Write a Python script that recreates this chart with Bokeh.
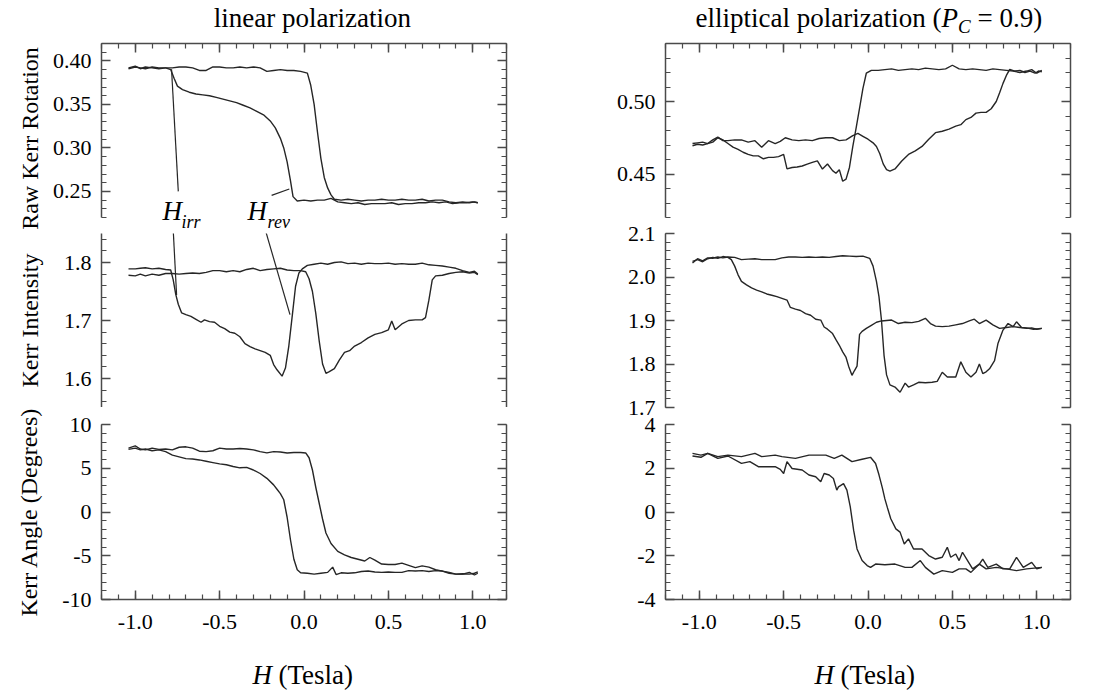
from bokeh.plotting import figure
from bokeh.models import Range1d, LinearAxis, FixedTicker, Label, CustomJSTickFormatter
from bokeh.layouts import row, column
from bokeh.embed import file_html
from bokeh.resources import INLINE

# ---------------- data ----------------
# linear polarization: raw Kerr rotation
rot_a_h = [-1.04, -1.00, -0.97, -0.94, -0.90, -0.86, -0.82, -0.78, -0.74, -0.70, -0.66, -0.62, -0.58, -0.54, -0.50,
           -0.46, -0.42, -0.38, -0.34, -0.30, -0.26, -0.22, -0.18, -0.14, -0.10, -0.06, -0.02, 0.02, 0.04, 0.06, 0.08,
           0.10, 0.12, 0.14, 0.16, 0.18, 0.22, 0.26, 0.30, 0.34, 0.38, 0.42, 0.46, 0.50, 0.54, 0.58, 0.62, 0.66, 0.70,
           0.74, 0.78, 0.82, 0.86, 0.90, 0.94, 0.98, 1.01, 1.03]
rot_a_y = [0.392, 0.394, 0.391, 0.393, 0.392, 0.391, 0.392, 0.392, 0.393, 0.393, 0.392, 0.389, 0.389, 0.393, 0.393,
           0.392, 0.392, 0.393, 0.392, 0.393, 0.392, 0.388, 0.389, 0.390, 0.389, 0.389, 0.388, 0.386, 0.372, 0.350,
           0.318, 0.288, 0.266, 0.254, 0.246, 0.241, 0.240, 0.241, 0.240, 0.239, 0.240, 0.240, 0.241, 0.240, 0.240,
           0.241, 0.240, 0.240, 0.241, 0.239, 0.240, 0.240, 0.238, 0.237, 0.238, 0.237, 0.238, 0.237]
rot_b_h = [-1.04, -1.00, -0.97, -0.94, -0.90, -0.86, -0.82, -0.79, -0.77, -0.75, -0.72, -0.68, -0.64, -0.60, -0.56,
           -0.52, -0.48, -0.44, -0.40, -0.36, -0.32, -0.28, -0.24, -0.20, -0.17, -0.14, -0.12, -0.10, -0.08, -0.065,
           -0.04, 0.00, 0.04, 0.08, 0.12, 0.16, 0.20, 0.24, 0.28, 0.32, 0.36, 0.40, 0.44, 0.48, 0.52, 0.56, 0.60, 0.64,
           0.68, 0.72, 0.76, 0.80, 0.84, 0.88, 0.92, 0.96, 1.00, 1.03]
rot_b_y = [0.391, 0.393, 0.392, 0.391, 0.393, 0.392, 0.392, 0.390, 0.380, 0.371, 0.367, 0.364, 0.362, 0.361, 0.360,
           0.358, 0.356, 0.354, 0.352, 0.349, 0.346, 0.342, 0.338, 0.331, 0.323, 0.311, 0.300, 0.284, 0.262, 0.244,
           0.239, 0.240, 0.239, 0.240, 0.240, 0.242, 0.238, 0.237, 0.236, 0.237, 0.235, 0.236, 0.236, 0.236, 0.237,
           0.235, 0.236, 0.236, 0.237, 0.237, 0.238, 0.237, 0.238, 0.236, 0.237, 0.237, 0.238, 0.237]

# linear polarization: Kerr intensity
int_a_h = [-1.04, -1.00, -0.97, -0.94, -0.90, -0.86, -0.82, -0.79, -0.775, -0.76, -0.745, -0.725, -0.70, -0.67,
           -0.64, -0.61, -0.59, -0.56, -0.53, -0.50, -0.47, -0.44, -0.41, -0.38, -0.35, -0.32, -0.29, -0.26, -0.23,
           -0.20, -0.18, -0.16, -0.13, -0.11, -0.09, -0.07, -0.05, -0.03, -0.01, 0.02, 0.06, 0.10, 0.14, 0.18, 0.22,
           0.26, 0.30, 0.34, 0.38, 0.42, 0.46, 0.50, 0.54, 0.58, 0.62, 0.66, 0.70, 0.74, 0.78, 0.82, 0.86, 0.90, 0.94,
           0.98, 1.01, 1.03]
int_a_y = [1.789, 1.789, 1.790, 1.791, 1.789, 1.790, 1.788, 1.787, 1.770, 1.745, 1.728, 1.713, 1.710, 1.707, 1.702,
           1.697, 1.701, 1.698, 1.697, 1.690, 1.686, 1.680, 1.678, 1.672, 1.660, 1.655, 1.651, 1.648, 1.645, 1.640,
           1.624, 1.615, 1.604, 1.618, 1.656, 1.707, 1.759, 1.782, 1.789, 1.795, 1.797, 1.799, 1.797, 1.800, 1.801,
           1.798, 1.799, 1.797, 1.799, 1.798, 1.798, 1.799, 1.797, 1.798, 1.797, 1.797, 1.799, 1.796, 1.795, 1.794,
           1.792, 1.790, 1.786, 1.783, 1.785, 1.780]
int_b_h = [-1.04, -1.00, -0.97, -0.94, -0.90, -0.86, -0.82, -0.78, -0.74, -0.70, -0.66, -0.62, -0.58, -0.54, -0.50,
           -0.46, -0.42, -0.38, -0.34, -0.30, -0.26, -0.22, -0.18, -0.14, -0.10, -0.06, -0.02, 0.01, 0.03, 0.05, 0.07,
           0.09, 0.11, 0.13, 0.15, 0.18, 0.21, 0.24, 0.27, 0.30, 0.34, 0.38, 0.42, 0.46, 0.50, 0.52, 0.54, 0.58, 0.62,
           0.66, 0.70, 0.72, 0.74, 0.76, 0.78, 0.82, 0.86, 0.90, 0.94, 0.98, 1.01, 1.03]
int_b_y = [1.778, 1.777, 1.780, 1.777, 1.780, 1.778, 1.781, 1.781, 1.780, 1.781, 1.782, 1.781, 1.783, 1.786, 1.786,
           1.784, 1.786, 1.784, 1.788, 1.790, 1.786, 1.788, 1.789, 1.790, 1.787, 1.786, 1.786, 1.784, 1.772, 1.750,
           1.712, 1.665, 1.625, 1.609, 1.612, 1.617, 1.632, 1.645, 1.648, 1.656, 1.662, 1.670, 1.676, 1.679, 1.684,
           1.699, 1.684, 1.694, 1.700, 1.701, 1.701, 1.705, 1.735, 1.770, 1.777, 1.778, 1.781, 1.783, 1.784, 1.782,
           1.783, 1.779]

# linear polarization: Kerr angle
ang_a_h = [-1.04, -1.00, -0.97, -0.94, -0.90, -0.86, -0.82, -0.78, -0.74, -0.70, -0.66, -0.62, -0.58, -0.54, -0.50,
           -0.46, -0.42, -0.38, -0.34, -0.30, -0.26, -0.22, -0.18, -0.14, -0.10, -0.06, -0.02, 0.01, 0.03, 0.05, 0.07,
           0.09, 0.11, 0.13, 0.16, 0.20, 0.24, 0.28, 0.32, 0.36, 0.39, 0.42, 0.46, 0.50, 0.54, 0.58, 0.62, 0.66, 0.70,
           0.74, 0.78, 0.82, 0.86, 0.90, 0.94, 0.98, 1.01, 1.03]
ang_a_y = [7.3, 7.55, 7.2, 7.1, 7.3, 7.15, 7.2, 7.1, 7.4, 7.45, 7.3, 6.95, 6.9, 7.0, 7.3, 7.2, 7.2, 7.25, 7.2, 7.1,
           6.9, 6.75, 6.9, 6.85, 6.75, 6.8, 6.8, 6.75, 6.2, 4.8, 2.8, 1.0, -0.8, -2.4, -3.6, -4.5, -4.9, -5.2, -5.4,
           -5.6, -5.2, -5.5, -5.95, -6.0, -6.0, -5.85, -6.1, -6.35, -6.15, -6.3, -6.6, -6.75, -6.9, -7.1, -7.05, -7.1,
           -7.0, -6.85]
ang_b_h = [-1.04, -1.00, -0.97, -0.94, -0.90, -0.86, -0.82, -0.78, -0.74, -0.70, -0.66, -0.62, -0.58, -0.54, -0.50,
           -0.46, -0.42, -0.38, -0.34, -0.30, -0.26, -0.22, -0.18, -0.16, -0.14, -0.12, -0.10, -0.08, -0.06, -0.04,
           -0.02, 0.02, 0.06, 0.10, 0.14, 0.17, 0.19, 0.22, 0.26, 0.30, 0.34, 0.38, 0.42, 0.46, 0.50, 0.54, 0.58, 0.62,
           0.66, 0.70, 0.74, 0.78, 0.82, 0.86, 0.90, 0.94, 0.98, 1.01, 1.03]
ang_b_y = [7.15, 7.3, 7.1, 7.2, 7.0, 7.1, 6.9, 6.5, 6.3, 6.1, 6.05, 5.95, 5.8, 5.65, 5.5, 5.4, 5.2, 5.05, 5.1, 4.8,
           4.4, 3.85, 3.1, 2.6, 2.1, 1.4, -0.6, -3.2, -5.4, -6.6, -6.95, -7.0, -7.1, -7.0, -6.9, -6.3, -7.15, -6.95,
           -7.0, -6.95, -6.8, -6.75, -6.85, -6.9, -6.85, -6.9, -6.9, -6.7, -6.75, -6.7, -6.8, -6.7, -6.75, -7.0, -7.1,
           -7.1, -6.9, -7.2, -7.0]

# elliptical polarization: raw Kerr rotation
rote_a_h = [-1.04, -1.01, -0.98, -0.95, -0.92, -0.89, -0.86, -0.83, -0.80, -0.77, -0.74, -0.71, -0.68, -0.65, -0.62,
            -0.59, -0.56, -0.53, -0.50, -0.48, -0.45, -0.42, -0.39, -0.36, -0.33, -0.30, -0.27, -0.24, -0.21, -0.19,
            -0.17, -0.15, -0.13, -0.11, -0.09, -0.07, -0.05, -0.03, -0.01, 0.02, 0.06, 0.10, 0.14, 0.18, 0.22, 0.26,
            0.30, 0.34, 0.38, 0.42, 0.46, 0.50, 0.54, 0.58, 0.62, 0.66, 0.70, 0.74, 0.78, 0.82, 0.86, 0.90, 0.94, 0.97,
            1.00, 1.03]
rote_a_y = [0.4695, 0.4705, 0.4700, 0.4710, 0.4720, 0.4750, 0.4735, 0.4710, 0.4685, 0.4670, 0.4650, 0.4635, 0.4625,
            0.4625, 0.4605, 0.4615, 0.4615, 0.4620, 0.4635, 0.4535, 0.4545, 0.4548, 0.4555, 0.4568, 0.4580, 0.4590,
            0.4534, 0.4569, 0.4523, 0.4505, 0.4530, 0.4450, 0.4465, 0.4545, 0.4690, 0.4820, 0.4955, 0.5090, 0.5195,
            0.5215, 0.5215, 0.5220, 0.5225, 0.5215, 0.5220, 0.5225, 0.5220, 0.5230, 0.5225, 0.5220, 0.5225, 0.5250,
            0.5225, 0.5220, 0.5225, 0.5220, 0.5215, 0.5225, 0.5220, 0.5215, 0.5210, 0.5200, 0.5210, 0.5220, 0.5195,
            0.5215]
rote_b_h = [-1.04, -1.01, -0.98, -0.95, -0.92, -0.89, -0.86, -0.83, -0.79, -0.75, -0.71, -0.67, -0.63, -0.59, -0.55,
            -0.52, -0.49, -0.45, -0.41, -0.37, -0.33, -0.29, -0.25, -0.21, -0.17, -0.13, -0.09, -0.06, -0.03, 0.00,
            0.03, 0.05, 0.07, 0.09, 0.11, 0.13, 0.16, 0.20, 0.24, 0.28, 0.32, 0.36, 0.40, 0.44, 0.48, 0.52, 0.55, 0.58,
            0.61, 0.64, 0.67, 0.70, 0.73, 0.76, 0.78, 0.80, 0.82, 0.84, 0.87, 0.90, 0.93, 0.96, 0.99, 1.01, 1.03]
rote_b_y = [0.4710, 0.4715, 0.4720, 0.4710, 0.4735, 0.4755, 0.4730, 0.4730, 0.4735, 0.4735, 0.4720, 0.4730, 0.4685,
            0.4730, 0.4710, 0.4725, 0.4750, 0.4735, 0.4730, 0.4735, 0.4730, 0.4745, 0.4750, 0.4750, 0.4730, 0.4735,
            0.4765, 0.4780, 0.4760, 0.4740, 0.4715, 0.4690, 0.4640, 0.4570, 0.4530, 0.4520, 0.4535, 0.4590, 0.4635,
            0.4660, 0.4690, 0.4740, 0.4785, 0.4795, 0.4810, 0.4830, 0.4840, 0.4875, 0.4890, 0.4920, 0.4925, 0.4925,
            0.4950, 0.5000, 0.5060, 0.5125, 0.5180, 0.5222, 0.5210, 0.5215, 0.5200, 0.5210, 0.5195, 0.5210, 0.5205]

# elliptical polarization: Kerr intensity
inte_p_h = [-1.04, -1.01, -0.98, -0.95, -0.92, -0.89, -0.86, -0.83, -0.79, -0.75, -0.71, -0.67, -0.63, -0.59, -0.55,
            -0.51, -0.47, -0.43, -0.39, -0.35, -0.31, -0.27, -0.23, -0.19, -0.15, -0.11, -0.07, -0.03, 0.01, 0.03,
            0.05, 0.065, 0.08, 0.095, 0.11, 0.13, 0.16, 0.19, 0.22, 0.24, 0.27, 0.30, 0.34, 0.38, 0.41, 0.44, 0.47,
            0.50, 0.52, 0.55, 0.58, 0.61, 0.64, 0.66, 0.68, 0.70, 0.72, 0.75, 0.77, 0.80, 0.83, 0.86, 0.88, 0.91, 0.94,
            0.97, 1.00, 1.03]
inte_p_y = [2.032, 2.042, 2.037, 2.044, 2.043, 2.046, 2.044, 2.046, 2.045, 2.040, 2.041, 2.042, 2.040, 2.040, 2.040,
            2.044, 2.046, 2.046, 2.045, 2.046, 2.045, 2.046, 2.045, 2.047, 2.049, 2.048, 2.047, 2.048, 2.043, 2.025,
            1.990, 1.955, 1.900, 1.820, 1.775, 1.752, 1.747, 1.735, 1.756, 1.747, 1.752, 1.758, 1.757, 1.758, 1.760,
            1.781, 1.770, 1.770, 1.770, 1.805, 1.781, 1.770, 1.781, 1.800, 1.778, 1.782, 1.789, 1.808, 1.847, 1.878,
            1.893, 1.886, 1.897, 1.884, 1.882, 1.883, 1.880, 1.882]
inte_q_h = [-1.04, -1.01, -0.98, -0.95, -0.92, -0.89, -0.86, -0.83, -0.81, -0.79, -0.77, -0.75, -0.72, -0.69, -0.66,
            -0.63, -0.60, -0.57, -0.54, -0.51, -0.48, -0.46, -0.43, -0.40, -0.37, -0.34, -0.31, -0.28, -0.26, -0.24,
            -0.21, -0.19, -0.17, -0.15, -0.13, -0.115, -0.095, -0.08, -0.065, -0.05, -0.035, -0.01, 0.02, 0.05, 0.08,
            0.11, 0.14, 0.18, 0.22, 0.26, 0.30, 0.34, 0.37, 0.40, 0.44, 0.48, 0.52, 0.56, 0.60, 0.63, 0.66, 0.70, 0.74,
            0.78, 0.82, 0.86, 0.90, 0.94, 0.98, 1.01, 1.03]
inte_q_y = [2.036, 2.040, 2.035, 2.042, 2.045, 2.043, 2.047, 2.045, 2.040, 2.025, 2.005, 1.990, 1.982, 1.975, 1.970,
            1.966, 1.961, 1.958, 1.955, 1.951, 1.947, 1.930, 1.926, 1.923, 1.916, 1.912, 1.903, 1.901, 1.885, 1.880,
            1.870, 1.856, 1.843, 1.828, 1.815, 1.795, 1.774, 1.785, 1.795, 1.868, 1.875, 1.882, 1.889, 1.896, 1.899,
            1.900, 1.901, 1.893, 1.896, 1.895, 1.898, 1.905, 1.893, 1.887, 1.886, 1.887, 1.890, 1.893, 1.899, 1.903,
            1.893, 1.901, 1.890, 1.882, 1.884, 1.886, 1.884, 1.883, 1.880, 1.881, 1.882]

# elliptical polarization: Kerr angle
ange_u_h = [-1.04, -0.99, -0.95, -0.89, -0.83, -0.75, -0.67, -0.63, -0.55, -0.51, -0.43, -0.35, -0.25, -0.20, -0.155,
            -0.095, -0.035, 0.015, 0.045, 0.065, 0.085, 0.10, 0.115, 0.135, 0.165, 0.19, 0.215, 0.24, 0.27, 0.32,
            0.36, 0.40, 0.44, 0.47, 0.49, 0.52, 0.54, 0.56, 0.59, 0.62, 0.66, 0.68, 0.71, 0.76, 0.80, 0.84, 0.88, 0.92,
            0.97, 1.00, 1.03]
ange_u_y = [2.68, 2.60, 2.68, 2.53, 2.60, 2.53, 2.68, 2.53, 2.60, 2.53, 2.45, 2.60, 2.60, 2.45, 2.60, 2.30, 2.41,
            2.50, 2.22, 1.70, 1.10, 0.60, 0.20, -0.31, -0.77, -0.92, -1.46, -1.23, -1.69, -1.69, -1.99, -2.15, -2.07,
            -1.61, -2.07, -1.92, -2.22, -1.84, -2.22, -2.60, -2.38, -2.15, -2.53, -2.38, -2.60, -2.60, -2.07, -2.53,
            -2.30, -2.60, -2.53]
ange_l_h = [-1.04, -0.99, -0.95, -0.89, -0.83, -0.75, -0.70, -0.65, -0.55, -0.52, -0.50, -0.48, -0.45, -0.39, -0.35,
            -0.31, -0.28, -0.26, -0.23, -0.205, -0.185, -0.175, -0.145, -0.125, -0.105, -0.085, -0.065, -0.035,
            -0.005, 0.015, 0.045, 0.10, 0.16, 0.22, 0.26, 0.31, 0.34, 0.39, 0.44, 0.50, 0.54, 0.58, 0.61, 0.66, 0.70,
            0.76, 0.82, 0.88, 0.94, 1.03]
ange_l_y = [2.56, 2.50, 2.68, 2.45, 2.56, 2.22, 2.30, 2.07, 2.07, 1.95, 1.76, 2.30, 1.99, 1.92, 1.69, 1.61, 1.38,
            1.76, 1.69, 1.53, 1.00, 1.15, 1.30, 1.00, 0.23, -0.84, -1.69, -2.22, -2.45, -2.53, -2.38, -2.41, -2.38,
            -2.53, -2.53, -2.22, -2.53, -2.84, -2.68, -2.76, -2.60, -2.60, -2.76, -2.38, -2.60, -2.53, -2.60, -2.68,
            -2.60, -2.53]

# annotation leader lines (data coordinates of the left column)
irr_top_x = [-0.785, -0.745]
irr_top_y = [0.3904, 0.250]
rev_top_x = [-0.192, -0.087]
rev_top_y = [0.2454, 0.2527]
irr_mid_x = [-0.775, -0.755]
irr_mid_y = [1.856, 1.744]
rev_mid_x = [-0.231, -0.083]
rev_mid_y = [1.858, 1.710]

# tick values and labels
x_major = [-1.0, -0.5, 0.0, 0.5, 1.0]
x_labels = ["-1.0", "-0.5", "0.0", "0.5", "1.0"]
rot_major = [0.25, 0.30, 0.35, 0.40]
rot_labels = ["0.25", "0.30", "0.35", "0.40"]
int_major = [1.6, 1.7, 1.8]
int_labels = ["1.6", "1.7", "1.8"]
ang_major = [-10, -5, 0, 5, 10]
ang_labels = ["-10", "-5", "0", "5", "10"]
rote_major = [0.45, 0.50]
rote_labels = ["0.45", "0.50"]
inte_major = [1.7, 1.8, 1.9, 2.0, 2.1]
inte_labels = ["1.7", "1.8", "1.9", "2.0", "2.1"]
ange_major = [-4, -2, 0, 2, 4]
ange_labels = ["-4", "-2", "0", "2", "4"]

# ---------------- styling ----------------
FONT = "Liberation Serif"
INK = "#262626"
AXC = "#4a4a4a"
TICK_FS = "22px"
LW, RW = 560, 542          # column widths
LB, LR = 101, 54           # left column side borders
RB, RR = 105, 32           # right column side borders
HEAD, FOOT = 36, 56        # heights of the title strip and x-label strip


def steps(lo, hi, step):
    n = int(round((hi - lo) / step))
    return [round(lo + step * i, 4) for i in range(n + 1)]


x_minor = steps(-1.2, 1.2, 0.1)


def style_axis(ax, major, minor, labels=None, standoff=10, bounds=None):
    ax.ticker = FixedTicker(ticks=major, minor_ticks=minor)
    ax.major_tick_in = 9
    ax.major_tick_out = 0
    ax.minor_tick_in = 5
    ax.minor_tick_out = 0
    ax.axis_line_color = AXC
    ax.axis_line_width = 1.5
    ax.major_tick_line_color = AXC
    ax.major_tick_line_width = 1.5
    ax.minor_tick_line_color = AXC
    ax.minor_tick_line_width = 1.2
    ax.major_label_text_font = FONT
    ax.major_label_text_color = "black"
    if bounds is not None:
        ax.bounds = bounds
    if labels is None:
        ax.formatter = CustomJSTickFormatter(code="return ''")
        ax.major_label_text_font_size = "1px"
        ax.major_label_standoff = 0
    else:
        ax.major_label_overrides = dict(zip(major, labels))
        ax.major_label_text_font_size = TICK_FS
        ax.major_label_standoff = standoff


def panel(w, h, bl, br, bt, bb, yr, xloc, ymajor, yminor, ylabels, ytitle=None, ytitle_standoff=8, ybounds=None,
          margin=None):
    kw = {} if margin is None else {"margin": margin}
    p = figure(width=w, height=h, x_range=Range1d(-1.2, 1.2), y_range=Range1d(*yr), title=None,
               x_axis_location=xloc, y_axis_location="left",
               output_backend="svg", toolbar_location=None, tools="",
               min_border_left=bl, min_border_right=br, min_border_top=bt, min_border_bottom=bb, **kw)
    p.outline_line_color = None
    p.grid.visible = False
    p.background_fill_color = None
    p.border_fill_color = None
    style_axis(p.yaxis[0], ymajor, yminor, ylabels, bounds=ybounds)
    if ytitle:
        ax = p.yaxis[0]
        ax.axis_label = ytitle
        ax.axis_label_text_font = FONT
        ax.axis_label_text_font_size = "24px"
        ax.axis_label_text_font_style = "normal"
        ax.axis_label_text_color = "black"
        ax.axis_label_standoff = ytitle_standoff
    rax = LinearAxis()
    style_axis(rax, ymajor, yminor, None, bounds=ybounds)
    p.add_layout(rax, "right")
    if xloc == "above":
        style_axis(p.xaxis[0], x_major, x_minor, None)
    elif xloc == "below":
        style_axis(p.xaxis[0], x_major, x_minor, x_labels, standoff=15)
    return p


def text_strip(w, h, bl, br):
    # a plain strip (no axes) sharing the panels' horizontal scale; y counts pixels from its top
    p = figure(width=w, height=h, x_range=Range1d(-1.2, 1.2), y_range=Range1d(h, 0), title=None,
               x_axis_location=None, y_axis_location=None,
               output_backend="svg", toolbar_location=None, tools="",
               min_border_left=bl, min_border_right=br, min_border_top=0, min_border_bottom=0)
    p.outline_line_color = None
    p.grid.visible = False
    return p


def curve(p, h, y):
    p.line(h, y, line_color=INK, line_width=1.4)


def lab(p, x, y, text, size="27px", style="normal", align="left"):
    # y is the vertical middle of the text box
    p.add_layout(Label(x=x, y=y, text=text, text_font=FONT, text_font_size=size,
                       text_font_style=style, text_align=align, text_baseline="middle",
                       text_color="black"))


# ---------------- left column: linear polarization ----------------
hL = text_strip(LW, HEAD, LB, LR)
lab(hL, 0.05, 17, "linear polarization", align="center")

# top panel: frame extends 16 px below the data range so the H labels sit inside it
ext = 16 / 870.0
p1 = panel(LW, 197, LB, LR, 7, 0, (0.22 - ext, 0.42), "above", rot_major, steps(0.22, 0.42, 0.01), rot_labels,
           "Raw Kerr Rotation", 7, ybounds=(0.22, 0.42))
curve(p1, rot_a_h, rot_a_y)
curve(p1, rot_b_h, rot_b_y)
p1.line(irr_top_x, irr_top_y, line_color=INK, line_width=1.2)
p1.line(rev_top_x, rev_top_y, line_color=INK, line_width=1.2)
lab(p1, -0.8385, 0.2269, "H", style="italic")
lab(p1, -0.726, 0.2144, "irr", size="18px", style="italic")
lab(p1, -0.335, 0.2269, "H", style="italic")
lab(p1, -0.216, 0.2144, "rev", size="18px", style="italic")

p2 = panel(LW, 174, LB, LR, 0, 0, (1.55, 1.85), None, int_major, steps(1.56, 1.84, 0.02), int_labels,
           "Kerr Intensity", 18)
curve(p2, int_a_h, int_a_y)
curve(p2, int_b_h, int_b_y)
p2.line(irr_mid_x, irr_mid_y, line_color=INK, line_width=1.2)
p2.line(rev_mid_x, rev_mid_y, line_color=INK, line_width=1.2)

p3 = panel(LW, 233, LB, LR, 17, 41, (-10, 10), "below", ang_major, steps(-10, 10, 1), ang_labels,
           "Kerr Angle (Degrees)", 17)
curve(p3, ang_a_h, ang_a_y)
curve(p3, ang_b_h, ang_b_y)

fL = text_strip(LW, FOOT, LB, LR)
lab(fL, -0.305, 34, "H", style="italic")
lab(fL, -0.151, 34, "(Tesla)")

# ---------------- right column: elliptical polarization ----------------
hR = text_strip(RW, HEAD, RB, RR)
lab(hR, -1.022, 17, "elliptical polarization (")
lab(hR, 0.4355, 17, "P", style="italic")
lab(hR, 0.533, 25.5, "C", size="19px", style="italic")
lab(hR, 0.649, 17, "= 0.9)")

q1 = panel(RW, 184, RB, RR, 7, 3, (0.42, 0.54), "above", rote_major, steps(0.42, 0.54, 0.01), rote_labels)
curve(q1, rote_a_h, rote_a_y)
curve(q1, rote_b_h, rote_b_y)

q2 = panel(RW, 200, RB, RR, 13, 13, (1.7, 2.1), None, inte_major, steps(1.7, 2.1, 0.02), inte_labels)
curve(q2, inte_p_h, inte_p_y)
curve(q2, inte_q_h, inte_q_y)

# the bottom panel's (transparent) canvas overlaps the one above by 9 px so both edge labels fit
q3 = panel(RW, 229, RB, RR, 13, 41, (-4, 4), "below", ange_major, steps(-4, 4, 0.4), ange_labels,
           margin=(-9, 0, 0, 0))
curve(q3, ange_u_h, ange_u_y)
curve(q3, ange_l_h, ange_l_y)

fR = text_strip(RW, FOOT, RB, RR)
lab(fR, -0.317, 34, "H", style="italic")
lab(fR, -0.163, 34, "(Tesla)")

layout = row(column(hL, p1, p2, p3, fL), column(hR, q1, q2, q3, fR))

open("out.html", "w").write(file_html(layout, INLINE))
